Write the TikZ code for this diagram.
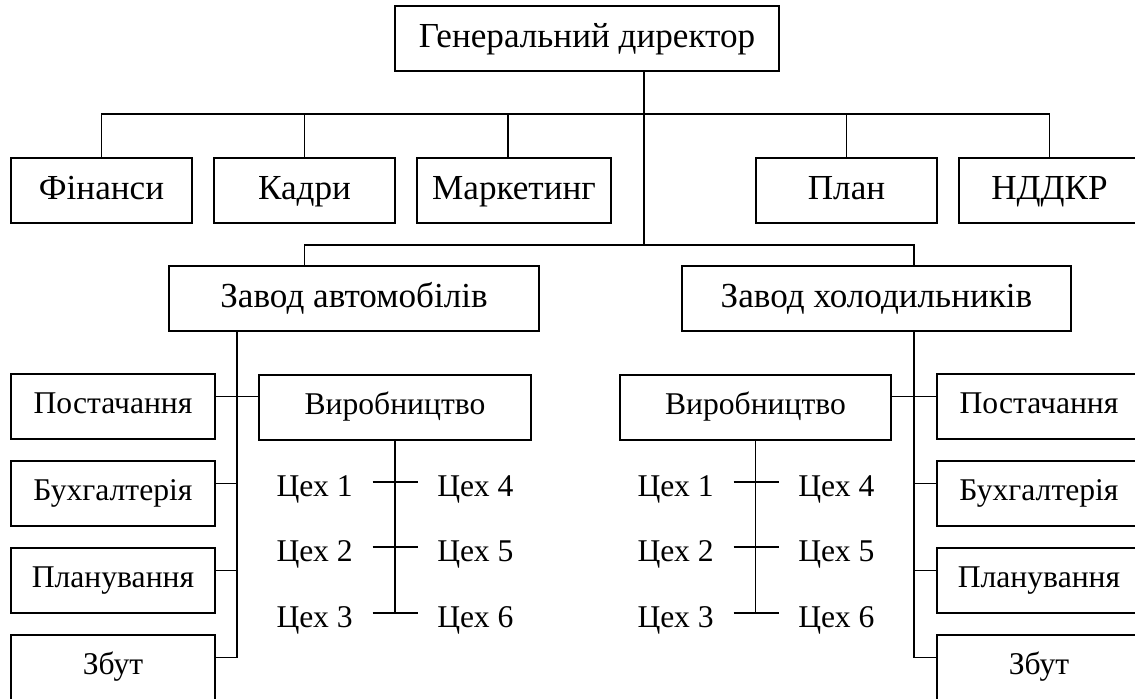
\documentclass[tikz,border=0pt]{standalone}
\usepackage{fontspec}
\setmainfont{Liberation Serif}
\usetikzlibrary{positioning,calc}

\begin{document}
\begin{tikzpicture}[line width=1pt]
\tikzstyle{bx}=[draw,minimum height=1.3cm,inner sep=0pt,text height=0.5cm,text depth=0.12cm,font=\fontsize{20}{24}\selectfont]
\tikzstyle{sx}=[draw,minimum height=1.3cm,inner sep=0pt,text height=0.44cm,text depth=0.17cm,font=\fontsize{18}{22}\selectfont]
\tikzstyle{ceh}=[inner xsep=0.38cm,inner ysep=0pt,font=\fontsize{18}{22}\selectfont]
\useasboundingbox (0,0) rectangle (22.7,13.98);
\clip (0,0) rectangle (22.7,13.98);
\node[bx,minimum width=7.68cm] (dir) at (11.74,13.21) {Генеральний директор};
\node[bx,minimum width=3.62cm] (fin) at (2.03,10.17) {Фінанси};
\node[bx,minimum width=3.62cm] (kad) at (6.09,10.17) {Кадри};
\node[bx,minimum width=3.88cm] (mar) at (10.28,10.17) {Маркетинг};
\node[bx,minimum width=3.62cm] (pln) at (16.93,10.17) {План};
\node[bx,minimum width=3.62cm] (ndd) at (20.99,10.17) {НДДКР};
\node[bx,minimum width=7.40cm] (zava) at (7.08,8.01) {Завод автомобілів};
\node[bx,minimum width=7.78cm] (zavh) at (17.53,8.01) {Завод холодильників};
\coordinate (j1) at (12.88,11.70);
\coordinate (j2) at (12.88,9.08);
\coordinate (lt) at (4.74,0);
\coordinate (rt) at (18.28,0);
\draw (fin.north) |- (j1) -| (ndd.north);
\draw (kad.north) -- (kad.north |- j1);
\draw ([xshift=-0.12cm]mar.north) -- ([xshift=-0.12cm]mar.north |- j1);
\draw (pln.north) -- (pln.north |- j1);
\draw (dir.south -| j1) -- (j2);
\draw (zava.north -| kad.south) |- (j2) -| (zavh.north -| rt);
\node[sx,minimum width=4.08cm] (posa) at (2.26,5.85) {Постачання};
\node[sx,minimum width=4.08cm] (buha) at (2.26,4.11) {Бухгалтерія};
\node[sx,minimum width=4.08cm] (plna) at (2.26,2.37) {Планування};
\node[sx,minimum width=4.08cm] (zbta) at (2.26,0.63) {Збут};
\node[sx,minimum width=4.08cm] (posh) at (20.78,5.85) {Постачання};
\node[sx,minimum width=4.08cm] (buhh) at (20.78,4.11) {Бухгалтерія};
\node[sx,minimum width=4.08cm] (plnh) at (20.78,2.37) {Планування};
\node[sx,minimum width=4.08cm] (zbth) at (20.78,0.63) {Збут};
\node[sx,minimum width=5.44cm] (vyra) at (7.90,5.83) {Виробництво};
\node[sx,minimum width=5.42cm] (vyrh) at (15.11,5.83) {Виробництво};
\draw (zava.south -| lt) |- ([yshift=0.2cm]zbta.east);
\draw (zavh.south -| rt) |- ([yshift=0.2cm]zbth.west);
\draw ([yshift=0.2cm]posa.east) -- ([yshift=0.2cm]posa.east -| vyra.west);
\draw ([yshift=0.2cm]buha.east) -- ([yshift=0.2cm]buha.east -| lt);
\draw ([yshift=0.2cm]plna.east) -- ([yshift=0.2cm]plna.east -| lt);
\draw ([yshift=0.2cm]posh.west) -- ([yshift=0.2cm]posh.west -| vyrh.east);
\draw ([yshift=0.2cm]buhh.west) -- ([yshift=0.2cm]buhh.west -| rt);
\draw ([yshift=0.2cm]plnh.west) -- ([yshift=0.2cm]plnh.west -| rt);
\foreach \i/\j/\y in {1/4/4.04,2/5/2.74,3/6/1.42} {
  \node[ceh,anchor=base east] (ca\i) at (7.45,\y) {Цех \i};
  \node[ceh,anchor=base west] (ca\j) at (8.35,\y) {Цех \j};
  \draw ([yshift=0.3cm]ca\i.base east) -- ([yshift=0.3cm]ca\j.base west);
  \node[ceh,anchor=base east] (ch\i) at (14.67,\y) {Цех \i};
  \node[ceh,anchor=base west] (ch\j) at (15.57,\y) {Цех \j};
  \draw ([yshift=0.3cm]ch\i.base east) -- ([yshift=0.3cm]ch\j.base west);
}
\draw (vyra.south) -- ([yshift=0.3cm]ca3.base east -| vyra.south);
\draw (vyrh.south) -- ([yshift=0.3cm]ch3.base east -| vyrh.south);
\end{tikzpicture}
\end{document}
